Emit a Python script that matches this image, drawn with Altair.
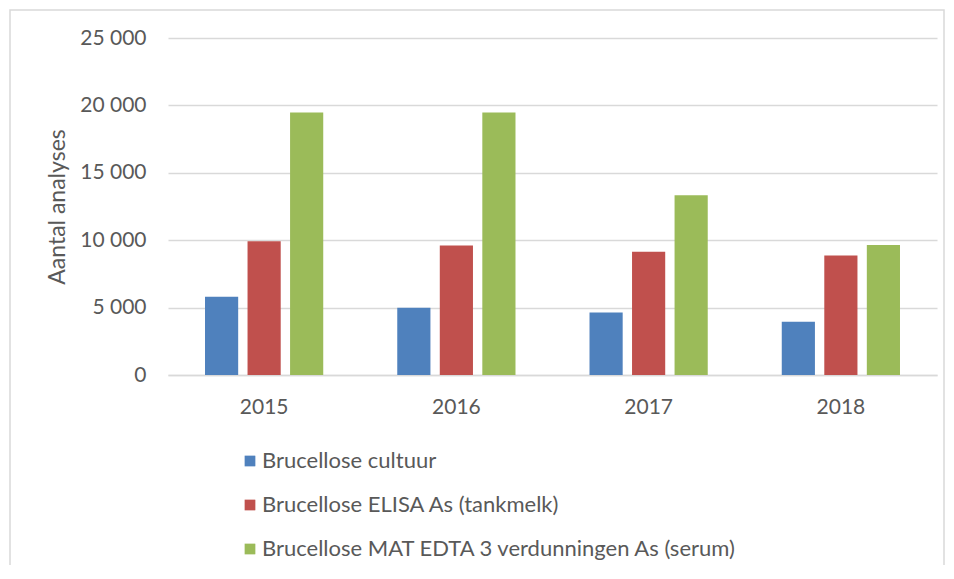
import altair as alt
import pandas as pd

years = ["2015", "2016", "2017", "2018"]
series = [
    "Brucellose cultuur",
    "Brucellose ELISA As (tankmelk)",
    "Brucellose MAT EDTA 3 verdunningen As (serum)",
]
cultuur = [5800, 4990, 4640, 3950]
elisa = [9930, 9600, 9140, 8860]
mat = [19480, 19480, 13330, 9650]
colors = ["#4F81BD", "#C0504D", "#9BBB59"]

rows = []
for s, vals in zip(series, [cultuur, elisa, mat]):
    for y, v in zip(years, vals):
        rows.append({"Jaar": y, "Reeks": s, "Aantal": v})
df = pd.DataFrame(rows)

FONT = "Lato"
GRAY = "#595959"

bars = alt.Chart(df).mark_bar().encode(
    x=alt.X("Jaar:N", sort=years,
            scale=alt.Scale(paddingInner=0.385, paddingOuter=0.1925),
            axis=alt.Axis(title=None, labelAngle=0, labelFontSize=21, labelColor=GRAY,
                          labelFont=FONT, ticks=False, domainColor="#D9D9D9",
                          domainWidth=1.5, labelPadding=21, grid=False)),
    xOffset=alt.XOffset("Reeks:N", sort=series,
                        scale=alt.Scale(paddingInner=0.22, paddingOuter=0)),
    y=alt.Y("Aantal:Q",
            scale=alt.Scale(domain=[0, 25000]),
            axis=alt.Axis(title="Aantal analyses", values=[0, 5000, 10000, 15000, 20000, 25000],
                          labelExpr="replace(format(datum.value, ','), ',', ' ')",
                          labelFontSize=21, labelColor=GRAY, labelFont=FONT,
                          titleFontSize=23, titleColor=GRAY, titleFont=FONT,
                          titleFontWeight="normal", titlePadding=10,
                          ticks=False, domain=False, labelPadding=22,
                          gridColor="#D9D9D9", gridWidth=1.5)),
    color=alt.Color("Reeks:N", sort=series,
                    scale=alt.Scale(domain=series, range=colors),
                    legend=alt.Legend(title=None, orient="none", legendX=71, legendY=412,
                                      direction="vertical", symbolType="square",
                                      symbolSize=115, symbolStrokeWidth=0,
                                      labelFontSize=22, labelColor=GRAY, labelFont=FONT,
                                      labelLimit=0, rowPadding=22, labelOffset=1)),
)

border = alt.Chart(pd.DataFrame({"a": [0]})).mark_rect(
    fillOpacity=0, stroke="#D9D9D9", strokeWidth=1.5
).encode(x=alt.value(-158), x2=alt.value(776), y=alt.value(-28), y2=alt.value(560))

chart = alt.layer(border, bars).properties(
    width=769, height=337,
    autosize=alt.AutoSizeParams(type="none"),
    padding={"left": 160, "top": 30, "right": 8, "bottom": 190},
).configure_view(stroke=None)

chart.save("out.html", embed_options={"renderer": "svg", "actions": False})
